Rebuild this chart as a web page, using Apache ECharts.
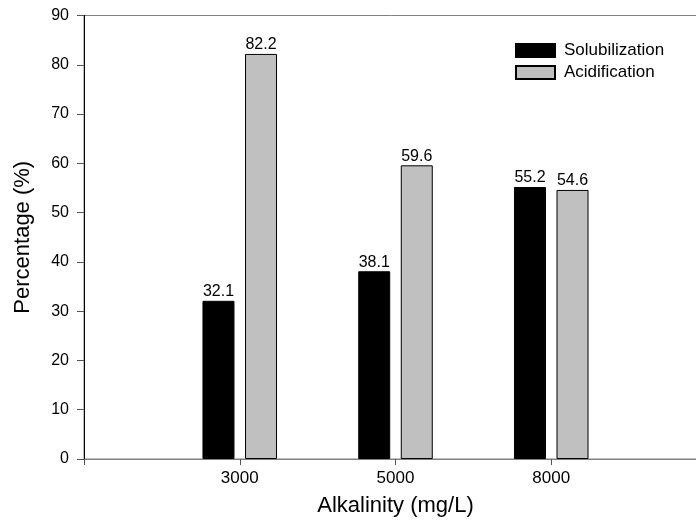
<!DOCTYPE html>
<html>
<head>
<meta charset="utf-8">
<script src="https://cdn.jsdelivr.net/npm/echarts@6/dist/echarts.min.js"></script>
<style>
html,body{margin:0;padding:0;background:#fff;}
#chart{width:696px;height:522px;}
</style>
</head>
<body>
<div id="chart"></div>
<script>
// Data
var categories = ['', '3000', '5000', '8000', ''];
var solubilization = [null, 32.1, 38.1, 55.2, null];
var acidification = [null, 82.2, 59.6, 54.6, null];
var seriesNames = ['Solubilization', 'Acidification'];

var FONT = '"Liberation Sans", Arial, sans-serif';
var chart = echarts.init(document.getElementById('chart'), null, {renderer: 'canvas'});

var labelCfg = {
  show: true,
  position: 'top',
  distance: 1,
  color: '#000',
  fontSize: 16,
  fontFamily: FONT,
  formatter: function (p) { return p.value == null ? '' : p.value.toFixed(1); }
};

chart.setOption({
  animation: false,
  backgroundColor: '#fff',
  grid: {
    left: 84, top: 15.5, width: 623, height: 443.5,
    containLabel: false,
    outerBoundsMode: 'none',
    show: true, borderColor: '#808080', borderWidth: 1, backgroundColor: 'transparent'
  },
  legend: {
    orient: 'vertical',
    left: 510,
    top: 37,
    itemWidth: 39,
    itemHeight: 13,
    itemGap: 5,
    icon: 'rect',
    textStyle: { color: '#000', fontSize: 17, fontFamily: FONT, padding: [0, 0, 0, 4] },
    data: seriesNames
  },
  xAxis: {
    type: 'category',
    data: categories,
    boundaryGap: false,
    name: 'Alkalinity (mg/L)',
    nameLocation: 'middle',
    nameGap: 36,
    nameTextStyle: { color: '#000', fontSize: 22, fontFamily: FONT },
    axisLine: { show: true, lineStyle: { color: '#808080', width: 1 } },
    axisTick: { show: true, inside: false, length: 6, lineStyle: { color: '#555' } },
    axisLabel: { color: '#000', fontSize: 17, fontFamily: FONT, margin: 11 },
    splitLine: { show: false }
  },
  yAxis: {
    type: 'value',
    min: 0, max: 90, interval: 10,
    name: 'Percentage (%)',
    nameLocation: 'middle',
    nameGap: 50,
    nameTextStyle: { color: '#000', fontSize: 22, fontFamily: FONT },
    axisLine: { show: true, lineStyle: { color: '#000', width: 1 } },
    axisTick: { show: true, inside: false, length: 7, lineStyle: { color: '#555' } },
    axisLabel: { color: '#000', fontSize: 16, fontFamily: FONT, margin: 15 },
    splitLine: { show: false }
  },
  series: [
    {
      name: seriesNames[0],
      type: 'bar',
      data: solubilization,
      barWidth: 32,
      barGap: '33%',
      itemStyle: { color: '#000', borderColor: '#000', borderWidth: 1 },
      label: labelCfg
    },
    {
      name: seriesNames[1],
      type: 'bar',
      data: acidification,
      barWidth: 32,
      barGap: '33%',
      itemStyle: { color: '#c0c0c0', borderColor: '#000', borderWidth: 1 },
      label: labelCfg
    }
  ]
});
</script>
</body>
</html>
